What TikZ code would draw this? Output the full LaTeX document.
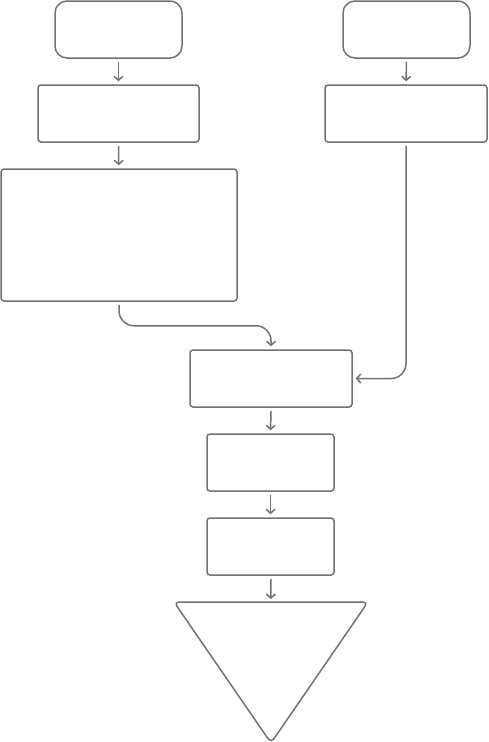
\documentclass[tikz,border=0pt]{standalone}
\usetikzlibrary{arrows.meta}
\definecolor{ln}{HTML}{727272}
\begin{document}
\begin{tikzpicture}[x=1pt,y=-1pt,
  box/.style={draw=ln,line width=1.5pt,rounded corners=3pt,inner sep=0pt,fill=white},
  term/.style={box,rounded corners=12pt},
  conn/.style={draw=ln,line width=1.5pt,-{Straight Barb[length=4pt,width=9pt]},shorten <=3pt,shorten >=3pt}]
\useasboundingbox (0,0) rectangle (488,742);
\node[term,minimum width=127pt,minimum height=57pt] (s1) at (118.5,29.5) {};
\node[term,minimum width=127pt,minimum height=57pt] (s2) at (406.5,29.5) {};
\node[box,minimum width=161pt,minimum height=57pt] (a) at (118.5,113.5) {};
\node[box,minimum width=162pt,minimum height=57pt] (b) at (406,113.5) {};
\node[box,minimum width=236pt,minimum height=132pt] (big) at (119,235) {};
\node[box,minimum width=162pt,minimum height=57pt] (c) at (271,378.5) {};
\node[box,minimum width=127pt,minimum height=57pt] (d) at (270.5,462.5) {};
\node[box,minimum width=127pt,minimum height=57pt] (e) at (270.5,546.5) {};
\coordinate (tri) at (271,602);
\draw[draw=ln,line width=1.5pt,rounded corners=5pt] (174,602) -- (368,602) -- (271,743) -- cycle;
\draw[conn] (s1) -- (a);
\draw[conn] (s2) -- (b);
\draw[conn] (a) -- (big);
\draw[conn,rounded corners=15pt] (big.south) -- ++(0,24) -| (c.north);
\draw[conn,rounded corners=15pt] (b.south) |- (c.east);
\draw[conn] (c) -- (d);
\draw[conn] (d) -- (e);
\draw[conn] (e) -- (tri);
\end{tikzpicture}
\end{document}
